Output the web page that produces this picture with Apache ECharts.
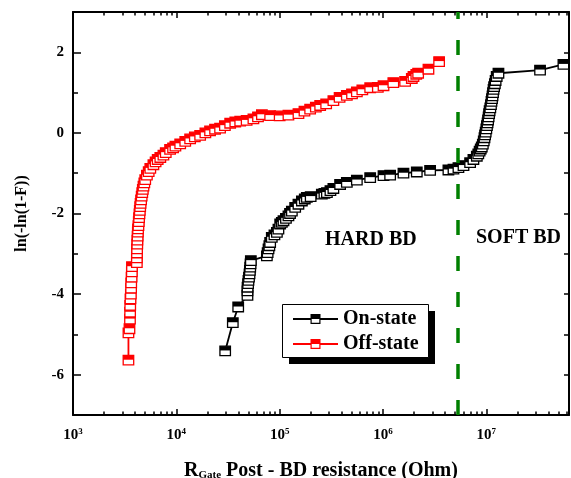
<!DOCTYPE html>
<html><head><meta charset="utf-8">
<script src="https://cdn.jsdelivr.net/npm/echarts@6/dist/echarts.min.js"></script>
<style>html,body{margin:0;padding:0;background:#fff}#c{width:571px;height:478px}</style>
</head><body><div id="c"></div>
<script>
// ---- data ----
const onX = [29700,35200,39700,48800,48800,48900,49500,49900,50500,51100,51500,51900,52300,52600,
  75200,76500,78000,79500,80900,83900,89000,94000,97300,101200,105000,108900,115000,121600,126000,131200,
  141300,152000,164100,175000,183200,199500,255900,271000,286400,310000,331100,384600,446700,558500,
  751600,1011600,1172200,1577600,2123200,2857600,4295400,4808400,5370300,6011700,6966300,7498900,8091000,
  8360000,8610000,8830000,9036500,9250000,9440600,9600000,9727500,9860000,10000000,10140000,10280000,
  10400000,10520000,10640000,10760000,10930000,11090000,11220000,11350000,11480000,11610000,11750000,
  11890000,12100000,12300000,12600000,13100000,33100000,55700000];
const onY = [-5.41,-4.71,-4.32,-4.03,-3.92,-3.83,-3.74,-3.66,-3.58,-3.50,-3.41,-3.33,-3.25,-3.17,
  -3.05,-2.97,-2.88,-2.80,-2.72,-2.59,-2.53,-2.47,-2.39,-2.26,-2.22,-2.18,-2.12,-2.06,-2.00,-1.94,
  -1.85,-1.77,-1.69,-1.64,-1.60,-1.58,-1.52,-1.50,-1.48,-1.43,-1.38,-1.28,-1.23,-1.17,
  -1.11,-1.06,-1.05,-1.00,-0.97,-0.93,-0.92,-0.90,-0.86,-0.81,-0.74,-0.66,-0.58,
  -0.52,-0.45,-0.40,-0.35,-0.28,-0.20,-0.12,-0.05,0.02,0.10,0.18,0.25,
  0.32,0.40,0.48,0.55,0.62,0.70,0.78,0.85,0.92,1.00,1.08,
  1.15,1.22,1.30,1.40,1.48,1.56,1.70];
const offX = [3440,3440,3520,3560,3570,3580,3600,3630,3650,3660,3690,3710,3720,
  4150,4150,4160,4170,4190,4200,4220,4240,4260,4300,4330,4360,4400,4430,4470,4510,4560,4620,4680,4740,
  4810,4900,5000,5190,5400,5600,6000,6300,6600,7000,7500,7900,8700,9300,9800,10900,12200,13600,15100,
  17000,19100,21200,23700,26500,29500,33200,37200,41500,47900,55700,61700,67300,80900,100000,121600,
  152000,173800,197200,223900,246600,281800,331100,380200,446700,501200,558500,631000,751600,891300,
  1011600,1258900,1636800,1900000,1972400,2100000,2187800,2754200,3491400];
const offY = [-5.64,-4.96,-4.86,-4.62,-4.45,-4.28,-4.12,-4.00,-3.85,-3.72,-3.58,-3.45,-3.32,
  -3.22,-3.10,-2.98,-2.88,-2.76,-2.66,-2.56,-2.46,-2.38,-2.30,-2.20,-2.10,-2.01,-1.92,-1.83,-1.75,-1.66,-1.57,-1.48,-1.40,
  -1.32,-1.24,-1.16,-1.05,-0.96,-0.88,-0.79,-0.72,-0.66,-0.61,-0.55,-0.49,-0.41,-0.37,-0.33,-0.27,-0.21,-0.15,-0.10,
  -0.06,0.00,0.05,0.09,0.12,0.18,0.24,0.27,0.29,0.31,0.35,0.40,0.45,0.43,0.42,0.44,
  0.48,0.54,0.59,0.64,0.68,0.72,0.80,0.88,0.93,0.97,1.02,1.07,1.12,1.13,
  1.17,1.25,1.28,1.35,1.40,1.45,1.48,1.58,1.77];
const seriesNames = ['On-state','Off-state'];
const xMin = 1000, xMax = 63095734;
const yMin = -7, yMax = 3;
const yLabelValues = [-6,-4,-2,0,2];
const boundaryR = 5.3e6;   // HARD / SOFT BD boundary
const regionLabels = ['HARD BD','SOFT BD'];

// ---- helpers ----
const FONT = "'Liberation Serif','Times New Roman',serif";
const pairs = (xs, ys) => xs.map((x, i) => [x, ys[i]]);
const lxMin = Math.log10(xMin), lxMax = Math.log10(xMax);
const minorExp = [];
for (let d = 3; d <= 7; d++) for (let m = 2; m <= 9; m++) {
  const v = Math.log10(m) + d; if (v < lxMax) minorExp.push(v);
}

function markerRender(color) {
  return function (params, api) {
    const p = api.coord([api.value(0), api.value(1)]);
    const w = 10.5, h = 9.5;
    return { type: 'group', children: [
      { type: 'rect', shape: { x: p[0] - w / 2, y: p[1] - h / 2, width: w, height: h },
        style: { fill: '#fff', stroke: color, lineWidth: 1.3 } },
      { type: 'rect', shape: { x: p[0] - w / 2, y: p[1] - h / 2, width: w, height: h * 0.45 },
        style: { fill: color } }
    ]};
  };
}
const legendIcon = 'path://M0,4H17.5V6H0Z M27.5,4H45V6H27.5Z M17.5,0H27.5V10H17.5Z M18.7,5V8.8H26.3V5Z';

const chart = echarts.init(document.getElementById('c'), null, { renderer: 'canvas' });
const axisLine = { show: true, onZero: false, lineStyle: { color: '#000', width: 2 } };
const noLine = { show: false, onZero: false };
chart.setOption({
  animation: false,
  backgroundColor: '#fff',
  grid: { left: 73, right: 2, top: 12, bottom: 63, containLabel: false, outerBoundsMode: 'none' },
  xAxis: [
    { type: 'log', logBase: 10, min: xMin, max: xMax, position: 'bottom',
      axisLine, splitLine: { show: false },
      axisTick: { show: true, inside: true, length: 6, lineStyle: { color: '#000', width: 1.5 } },
      axisLabel: { margin: 12, color: '#000', showMaxLabel: false,
        formatter: v => { const l = Math.log10(v); if (Math.abs(l - Math.round(l)) > 1e-6) return '';
          return '{b|10}{s|' + Math.round(l) + '}'; },
        rich: { b: { fontFamily: FONT, fontWeight: 'bold', fontSize: 15, lineHeight: 16, verticalAlign: 'bottom', color: '#000' },
                s: { fontFamily: FONT, fontWeight: 'bold', fontSize: 9, lineHeight: 10, verticalAlign: 'top', color: '#000' } } },
      name: '{r|R}{g|Gate}{r| Post - BD resistance (Ohm)}', nameLocation: 'middle', nameGap: 42,
      nameTextStyle: { rich: {
        r: { fontFamily: FONT, fontWeight: 'bold', fontSize: 20, lineHeight: 24, verticalAlign: 'bottom', color: '#000' },
        g: { fontFamily: FONT, fontWeight: 'bold', fontSize: 11, lineHeight: 8, verticalAlign: 'bottom', color: '#000' } } } },
    { type: 'value', min: lxMin, max: lxMax, position: 'bottom',
      axisLine: noLine, splitLine: { show: false }, axisLabel: { show: false },
      axisTick: { show: true, inside: true, length: 3.5, customValues: minorExp, lineStyle: { color: '#000', width: 1.5 } } },
    { type: 'log', logBase: 10, min: xMin, max: xMax, position: 'top',
      axisLine, splitLine: { show: false }, axisLabel: { show: false },
      axisTick: { show: true, inside: true, length: 6, lineStyle: { color: '#000', width: 1.5 } } },
    { type: 'value', min: lxMin, max: lxMax, position: 'top',
      axisLine: noLine, splitLine: { show: false }, axisLabel: { show: false },
      axisTick: { show: true, inside: true, length: 3.5, customValues: minorExp, lineStyle: { color: '#000', width: 1.5 } } }
  ],
  yAxis: [
    { type: 'value', min: yMin, max: yMax, interval: 1, position: 'left',
      axisLine, splitLine: { show: false },
      axisTick: { show: true, inside: true, length: 5, lineStyle: { color: '#000', width: 1.5 } },
      axisLabel: { margin: 9, color: '#000', fontFamily: FONT, fontWeight: 'bold', fontSize: 15,
        formatter: v => (yLabelValues.indexOf(v) >= 0 ? String(v) : '') },
      name: 'ln(-ln(1-F))', nameLocation: 'middle', nameGap: 43,
      nameTextStyle: { fontFamily: FONT, fontWeight: 'bold', fontSize: 16, color: '#000' } },
    { type: 'value', min: yMin, max: yMax, position: 'left',
      axisLine: noLine, splitLine: { show: false }, axisLabel: { show: false },
      axisTick: { show: true, inside: true, length: 8, customValues: yLabelValues, lineStyle: { color: '#000', width: 1.5 } } },
    { type: 'value', min: yMin, max: yMax, interval: 1, position: 'right',
      axisLine, splitLine: { show: false }, axisLabel: { show: false },
      axisTick: { show: true, inside: true, length: 5, lineStyle: { color: '#000', width: 1.5 } } }
  ],
  legend: {
    data: [{ name: seriesNames[0], icon: legendIcon }, { name: seriesNames[1], icon: legendIcon }],
    orient: 'vertical', left: 282, top: 304, itemWidth: 45, itemHeight: 10, itemGap: 5,
    padding: [5, 10, 3, 11], selectedMode: false, z: 20,
    itemStyle: { borderWidth: 0 },
    textStyle: { fontFamily: FONT, fontWeight: 'bold', fontSize: 20, color: '#000', padding: [0, 0, 0, 0] }
  },
  graphic: [
    { type: 'rect', left: 289, top: 311, z: 15, shape: { width: 146, height: 53 }, style: { fill: '#000' } },
    { type: 'rect', left: 282, top: 304, z: 16, shape: { width: 146, height: 53 }, style: { fill: '#fff', stroke: '#000', lineWidth: 1 } },
    { type: 'text', left: 325, top: 230, z: 100, style: { text: regionLabels[0], fontFamily: FONT, fontWeight: 'bold', fontSize: 20, fill: '#000' } },
    { type: 'text', left: 476, top: 228, z: 100, style: { text: regionLabels[1], fontFamily: FONT, fontWeight: 'bold', fontSize: 20, fill: '#000' } }
  ],
  series: [
    { name: seriesNames[0], type: 'line', data: pairs(onX, onY), symbol: 'none', z: 2,
      itemStyle: { color: '#000' }, lineStyle: { color: '#000', width: 1.8 } },
    { name: seriesNames[1], type: 'line', data: pairs(offX, offY), symbol: 'none', z: 2,
      itemStyle: { color: '#ff0000' }, lineStyle: { color: '#ff0000', width: 1.8 } },
    { name: seriesNames[0], type: 'custom', data: pairs(onX, onY), renderItem: markerRender('#000'), z: 3 },
    { name: seriesNames[1], type: 'custom', data: pairs(offX, offY), renderItem: markerRender('#ff0000'), z: 3 },
    { name: 'boundary', type: 'line', data: [], z: 10,
      markLine: { silent: true, symbol: ['none', 'none'], label: { show: false },
        lineStyle: { color: '#008000', width: 3.5, type: [15, 21] }, data: [{ xAxis: boundaryR }] } }
  ]
});
</script></body></html>
